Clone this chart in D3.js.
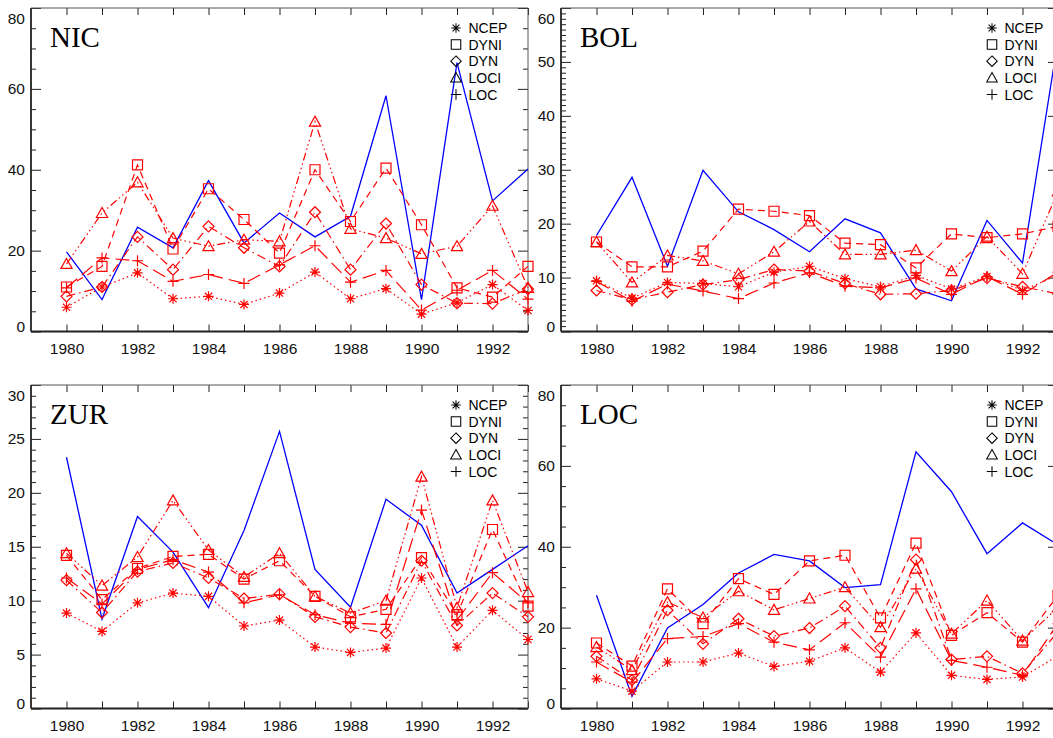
<!DOCTYPE html>
<html><head><meta charset="utf-8">
<script src="https://cdn.jsdelivr.net/npm/d3@7"></script>
<style>body{margin:0;background:#fff} svg{display:block}</style>
</head><body><svg id="c" width="1053" height="738"></svg>
<script>
const years = [1980,1981,1982,1983,1984,1985,1986,1987,1988,1989,1990,1991,1992,1993];
const xTickLabels = [1980,1982,1984,1986,1988,1990,1992];
const seriesNames = ["NCEP","DYNI","DYN","LOCI","LOC"];

// NIC
const nicObs  = [19.7,7.9,25.8,20.7,37.3,21.9,29.3,23.4,28.5,58.3,7.9,66.5,32.3,40.2];
const nicNCEP = [6.0,11.0,14.5,8.1,8.7,6.7,9.5,14.7,8.1,10.6,4.3,7.1,11.6,5.2];
const nicDYNI = [11.0,16.1,41.2,20.4,35.3,27.7,19.4,40.0,27.2,40.4,26.4,10.8,8.5,16.1];
const nicDYN  = [8.7,11.0,23.4,15.3,26.0,20.7,16.1,29.5,15.3,26.7,11.6,7.0,6.9,10.5];
const nicLOCI = [16.7,29.3,36.9,23.1,21.1,22.7,22.3,51.9,25.4,23.1,19.2,21.1,31.1,10.8];
const nicLOC  = [10.8,18.2,17.5,12.4,14.1,11.9,16.5,21.2,12.2,15.1,5.3,10.2,15.1,8.0];

// BOL
const bolObs  = [17.8,28.6,12.1,29.9,22.2,18.9,14.8,20.9,18.3,7.9,5.7,20.6,12.7,54.0];
const bolNCEP = [9.4,6.2,9.1,8.9,8.3,11.0,12.1,9.8,8.3,10.4,7.9,10.2,7.6,10.5];
const bolDYNI = [16.6,12.0,12.0,14.9,22.7,22.3,21.5,16.4,16.1,11.8,18.1,17.4,18.1,19.5];
const bolDYN  = [7.6,5.9,7.3,8.7,9.6,11.5,11.2,8.9,6.9,7.0,7.6,9.9,8.3,7.0];
const bolLOCI = [16.6,9.1,14.1,13.1,10.7,14.8,20.4,14.3,14.3,15.1,11.2,17.6,10.7,26.0];
const bolLOC  = [9.3,5.6,8.8,7.5,6.1,9.0,10.9,8.4,8.1,9.9,6.9,10.2,6.9,11.0];

// ZUR
const zurObs  = [23.3,8.3,17.8,14.5,9.35,16.5,25.7,12.9,9.4,19.4,17.0,10.7,12.9,15.1];
const zurNCEP = [8.85,7.15,9.8,10.7,10.4,7.65,8.2,5.7,5.2,5.6,12.1,5.7,9.1,6.4];
const zurDYNI = [14.2,10.1,13.0,14.1,14.3,12.0,13.7,10.4,8.5,9.2,14.0,8.7,16.6,9.5];
const zurDYN  = [11.9,8.9,12.7,13.5,12.1,10.2,10.6,8.5,7.55,7.0,13.7,7.7,10.7,8.5];
const zurLOCI = [14.4,11.4,14.05,19.3,14.7,12.2,14.4,10.4,8.85,10.0,21.5,9.35,19.3,10.8];
const zurLOC  = [12.1,9.7,12.9,13.8,12.65,9.8,10.55,8.7,7.9,7.8,18.4,8.2,12.6,9.8];

// LOC
const locObs  = [28.0,3.0,19.9,25.7,33.5,38.1,36.5,29.9,30.6,63.5,53.6,38.3,45.9,40.5];
const locNCEP = [7.35,4.3,11.5,11.5,13.7,10.4,11.7,15.0,9.0,18.7,8.2,7.2,7.8,13.0];
const locDYNI = [16.2,10.5,29.6,21.0,32.1,28.2,36.5,37.9,22.4,40.9,18.1,23.7,16.4,28.0];
const locDYN  = [12.9,7.0,24.3,16.0,22.2,17.9,19.9,25.3,15.0,36.8,12.1,12.9,8.7,19.0];
const locLOCI = [15.2,9.5,26.3,22.5,29.0,24.4,27.2,30.0,20.1,34.6,18.5,26.7,16.8,25.0];
const locLOC  = [11.5,6.5,17.3,17.8,21.0,16.4,14.5,21.2,12.7,29.6,11.9,10.2,8.2,21.0];

const panels = [
  {title:"NIC", left:31,  top:8,   ymax:80, major:20, minor:5, legendDx:425, obs:nicObs, series:[nicNCEP,nicDYNI,nicDYN,nicLOCI,nicLOC]},
  {title:"BOL", left:561, top:8,   ymax:60, major:10, minor:1, legendDx:431, obs:bolObs, series:[bolNCEP,bolDYNI,bolDYN,bolLOCI,bolLOC]},
  {title:"ZUR", left:31,  top:385, ymax:30, major:5,  minor:1, legendDx:425, obs:zurObs, series:[zurNCEP,zurDYNI,zurDYN,zurLOCI,zurLOC]},
  {title:"LOC", left:561, top:385, ymax:80, major:20, minor:5, legendDx:431, obs:locObs, series:[locNCEP,locDYNI,locDYN,locLOCI,locLOC]}
];

const PW = 497, PH = 323.5;
const dashes = {NCEP:"1.5,3", DYNI:"7,5", DYN:"9,4,1.5,4", LOCI:"8,3,1.5,3,1.5,3,1.5,3", LOC:"14,6"};
const symbols = {
  NCEP:"M-5,0H5M0,-5V5M-3.6,-3.6L3.6,3.6M-3.6,3.6L3.6,-3.6",
  DYNI:"M-5,-5H5V5H-5Z",
  DYN:"M0,-5.5L5.5,0L0,5.5L-5.5,0Z",
  LOCI:"M0,-5.5L5.6,4.5L-5.6,4.5Z",
  LOC:"M-5.5,0H5.5M0,-5.5V5.5"
};
const RED = "#ff0000", BLUE = "#0000ff";
const svg = d3.select("#c");

panels.forEach(p => {
  const g = svg.append("g").attr("transform", `translate(${p.left},${p.top})`);
  const x = d3.scaleLinear().domain([1979, 1993]).range([0, PW]);
  const y = d3.scaleLinear().domain([0, p.ymax]).range([PH, 0]);
  const majors = d3.range(0, p.ymax + 1e-9, p.major);
  const minors = d3.range(0, p.ymax + 1e-9, p.minor).filter(v => Math.abs(v / p.major - Math.round(v / p.major)) > 1e-6);

  // axes
  const fontAxis = "'Liberation Sans', Arial, sans-serif";
  const ax = (a) => a.tickSizeOuter(0);
  const gl = g.append("g").call(ax(d3.axisLeft(y).tickValues(majors).tickSize(-10).tickPadding(6).tickFormat(d3.format("d"))));
  g.append("g").call(ax(d3.axisLeft(y).tickValues(minors).tickSize(-5).tickFormat("")));
  g.append("g").attr("transform", `translate(${PW},0)`).call(ax(d3.axisRight(y).tickValues(majors).tickSize(-10).tickFormat("")));
  g.append("g").attr("transform", `translate(${PW},0)`).call(ax(d3.axisRight(y).tickValues(minors).tickSize(-5).tickFormat("")));
  const gb = g.append("g").attr("transform", `translate(0,${PH})`).call(ax(d3.axisBottom(x).tickValues(years).tickSize(-7).tickPadding(11.5).tickFormat(d => xTickLabels.includes(d) ? String(d) : "")));
  g.append("g").call(ax(d3.axisTop(x).tickValues(years).tickSize(-7).tickFormat("")));

  g.selectAll(".domain").remove();
  g.selectAll(".tick line").attr("stroke", "#222").attr("stroke-width", 1);
  g.selectAll(".tick text").attr("font-family", fontAxis).attr("font-size", 15.5).attr("fill", "#111");
  gl.selectAll(".tick text").attr("dy", d => d === p.ymax ? "1.0em" : (d === 0 ? "0.0em" : "0.32em"));

  // frame
  g.append("line").attr("x1", 0).attr("x2", 0).attr("y1", 0).attr("y2", PH).attr("stroke", "#222").attr("stroke-width", 1.8);
  g.append("line").attr("x1", 0).attr("x2", PW).attr("y1", PH).attr("y2", PH).attr("stroke", "#222").attr("stroke-width", 1.8);
  g.append("line").attr("x1", 0).attr("x2", PW).attr("y1", 0).attr("y2", 0).attr("stroke", "#555").attr("stroke-width", 1);
  g.append("line").attr("x1", PW).attr("x2", PW).attr("y1", 0).attr("y2", PH).attr("stroke", "#555").attr("stroke-width", 1);

  // observed
  const line = d3.line().x((d, i) => x(years[i])).y(d => y(d));
  g.append("path").datum(p.obs).attr("d", line).attr("fill", "none").attr("stroke", BLUE).attr("stroke-width", 1.3);

  // model series
  seriesNames.forEach((name, k) => {
    const vals = p.series[k];
    g.append("path").datum(vals).attr("d", line).attr("fill", "none")
      .attr("stroke", RED).attr("stroke-width", 1.2).attr("stroke-dasharray", dashes[name]);
    g.selectAll(null).data(vals).enter().append("path")
      .attr("transform", (d, i) => `translate(${x(years[i])},${y(d)})`)
      .attr("d", symbols[name]).attr("fill", "none").attr("stroke", RED).attr("stroke-width", 1.2);
  });

  // legend
  const lg = g.append("g").attr("transform", `translate(${p.legendDx},20)`);
  seriesNames.forEach((name, k) => {
    const row = lg.append("g").attr("transform", `translate(0,${k * 16.6})`);
    row.append("path").attr("d", symbols[name]).attr("transform", "scale(0.95)").attr("fill", "none").attr("stroke", "#000").attr("stroke-width", 1.1);
    row.append("text").attr("x", 12.5).attr("y", 5.2).text(name)
      .attr("font-family", fontAxis).attr("font-size", 14).attr("fill", "#000");
  });

  // title
  g.append("text").attr("x", 19).attr("y", 38.5).text(p.title)
    .attr("font-family", "'Liberation Serif', 'Times New Roman', serif").attr("font-size", 29).attr("fill", "#000");
});
</script>
</body></html>
